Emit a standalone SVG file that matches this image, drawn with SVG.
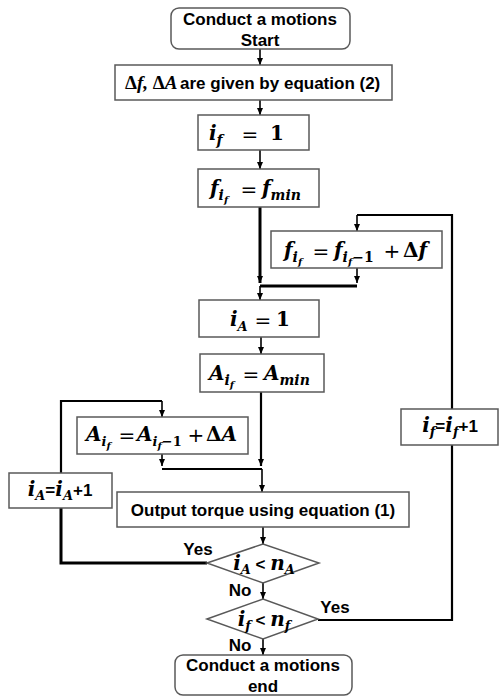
<svg xmlns="http://www.w3.org/2000/svg" width="499" height="696" viewBox="0 0 499 696">
<defs>
<marker id="ah" markerUnits="userSpaceOnUse" markerWidth="8" markerHeight="8" refX="7" refY="3" orient="auto">
<path d="M0,0 L7,3 L0,6 z" fill="#000"/>
</marker>
<style>
.b{fill:#fff;stroke:#595959;stroke-width:1.5}
.c{fill:none;stroke:#000;stroke-width:1.6}
.k{fill:none;stroke:#000;stroke-width:3}
.w{fill:none;stroke:#000;stroke-width:2.2}
.l{font-family:"Liberation Sans",Arial,sans-serif;font-weight:bold;font-size:17px;fill:#000}
.m{font-family:"DejaVu Serif","Liberation Serif",serif;font-weight:bold;font-style:italic;font-size:20px;fill:#000}
.op{font-family:"DejaVu Sans","Liberation Sans",sans-serif;font-weight:normal;font-size:20px;fill:#000;text-anchor:middle}
.u{font-style:normal}
.s1{font-size:14px}
.s2{font-size:10px}
</style>
</defs>
<rect width="499" height="696" fill="#fff"/>

<g id="connectors">
<line class="c" x1="260" y1="49" x2="260" y2="65" marker-end="url(#ah)"/>
<line class="c" x1="260" y1="100" x2="260" y2="115" marker-end="url(#ah)"/>
<line class="c" x1="260" y1="150" x2="260" y2="169" marker-end="url(#ah)"/>
<line class="k" x1="260" y1="207" x2="260" y2="283" marker-end="url(#ah)"/>
<line class="c" x1="357" y1="268" x2="357" y2="283" marker-end="url(#ah)"/>
<polyline class="k" points="260,286 357,286"/>
<line class="c" x1="260" y1="286" x2="260" y2="300" marker-end="url(#ah)"/>
<polyline class="w" points="452,409 452,215 357,215"/>
<line class="c" x1="357" y1="215" x2="357" y2="231" marker-end="url(#ah)"/>
<line class="c" x1="261" y1="337" x2="261" y2="354" marker-end="url(#ah)"/>
<line class="w" x1="261" y1="392" x2="261" y2="466" marker-end="url(#ah)"/>
<line class="c" x1="162" y1="454" x2="162" y2="466" marker-end="url(#ah)"/>
<polyline class="w" points="162,469 262,469"/>
<line class="c" x1="262" y1="469" x2="262" y2="492" marker-end="url(#ah)"/>
<polyline class="w" points="61,473 61,401 162,401"/>
<line class="c" x1="162" y1="401" x2="162" y2="417" marker-end="url(#ah)"/>
<polyline class="k" points="61,508 61,563 207,563"/>
<line class="c" x1="263" y1="527" x2="263" y2="544" marker-end="url(#ah)"/>
<line class="c" x1="263" y1="583" x2="263" y2="599" marker-end="url(#ah)"/>
<polyline class="w" points="318,620 452,620 452,445"/>
<line class="c" x1="263" y1="639" x2="263" y2="655" marker-end="url(#ah)"/>
</g>

<g id="start">
<rect class="b" x="171" y="8" width="179" height="41" rx="8"/>
<text class="l" x="260" y="25" text-anchor="middle">Conduct a motions</text>
<text class="l" x="260" y="46" text-anchor="middle">Start</text>
</g>

<g id="deltas">
<rect class="b" x="115" y="65" width="277" height="35"/>
<text class="m" x="125" y="89" style="font-family:'Liberation Serif',serif;font-size:19px"><tspan class="u">Δ</tspan>f, <tspan class="u">Δ</tspan>A</text>
<text class="l" x="180" y="89">are given by equation (2)</text>
</g>

<g id="if1">
<rect class="b" x="198" y="115" width="111" height="35"/>
<text class="m" y="140"><tspan x="209">i</tspan><tspan class="s1" dy="5">f</tspan></text>
<text class="op" x="250" y="141" font-size="22">=</text>
<text class="m u" x="270" y="140">1</text>
</g>

<g id="fmin">
<rect class="b" x="198" y="169" width="121" height="38"/>
<text class="m" y="195"><tspan x="210">f</tspan><tspan class="s1" dy="5">i</tspan><tspan class="s2" dy="3">f</tspan></text>
<text class="op" x="249" y="196">=</text>
<text class="m" y="195"><tspan x="262">f</tspan><tspan class="s1" dy="5">min</tspan></text>
</g>

<g id="fnext">
<rect class="b" x="271" y="231" width="171" height="37"/>
<text class="m" y="257"><tspan x="284">f</tspan><tspan class="s1" dy="5">i</tspan><tspan class="s2" dy="3">f</tspan></text>
<text class="op" x="321" y="258">=</text>
<text class="m" y="257"><tspan x="334">f</tspan><tspan class="s1" dy="5">i</tspan><tspan class="s2" dy="3">f</tspan><tspan class="s1 u" dy="-3">−1</tspan></text>
<text class="op" x="392" y="258">+</text>
<text class="m" x="403" y="257"><tspan class="u">Δ</tspan>f</text>
</g>

<g id="iA1">
<rect class="b" x="199" y="300" width="120" height="37"/>
<text class="m" y="326" font-size="18"><tspan x="230">i</tspan><tspan dy="5" font-size="13">A</tspan></text>
<text class="op" x="263" y="327">=</text>
<text class="m u" x="276" y="326" font-size="18">1</text>
</g>

<g id="Amin">
<rect class="b" x="200" y="354" width="124" height="38"/>
<text class="m" y="380"><tspan x="209">A</tspan><tspan class="s1" dy="5">i</tspan><tspan class="s2" dy="3">f</tspan></text>
<text class="op" x="251" y="381">=</text>
<text class="m" y="380"><tspan x="264">A</tspan><tspan class="s1" dy="5">min</tspan></text>
</g>

<g id="Anext">
<rect class="b" x="77" y="417" width="171" height="37"/>
<text class="m" y="441" font-size="18"><tspan x="86">A</tspan><tspan dy="5" font-size="13">i</tspan><tspan class="s2" dy="3">f</tspan></text>
<text class="op" x="127" y="442" font-size="18">=</text>
<text class="m" y="441" font-size="18"><tspan x="137">A</tspan><tspan dy="5" font-size="13">i</tspan><tspan class="s2" dy="3">f</tspan><tspan class="u" dy="-3" font-size="13">−1</tspan></text>
<text class="op" x="196" y="442" font-size="18">+</text>
<text class="m" x="206" y="441" font-size="18"><tspan class="u">Δ</tspan>A</text>
</g>

<g id="iAinc">
<rect class="b" x="9" y="473" width="103" height="35"/>
<text x="60" y="496" text-anchor="middle"><tspan class="m" font-size="19">i<tspan dy="4" font-size="13">A</tspan></tspan><tspan class="l" dy="-4">=</tspan><tspan class="m" font-size="19">i<tspan dy="4" font-size="13">A</tspan></tspan><tspan class="l" dy="-4">+1</tspan></text>
</g>

<g id="ifinc">
<rect class="b" x="401" y="409" width="97" height="36"/>
<text x="450" y="432" text-anchor="middle"><tspan class="m" font-size="19">i<tspan dy="4" font-size="13">f</tspan></tspan><tspan class="l" dy="-4">=</tspan><tspan class="m" font-size="19">i<tspan dy="4" font-size="13">f</tspan></tspan><tspan class="l" dy="-4">+1</tspan></text>
</g>

<g id="output">
<rect class="b" x="117" y="492" width="292" height="35"/>
<text class="l" x="263" y="516" text-anchor="middle">Output torque using equation (1)</text>
</g>

<g id="condA">
<polygon class="b" points="207,563 263,544 319,563 263,583"/>
<text x="264" y="570" text-anchor="middle"><tspan class="m">i<tspan dy="4" font-size="13">A</tspan></tspan><tspan class="l" dy="-4"> &lt; </tspan><tspan class="m">n<tspan dy="4" font-size="13">A</tspan></tspan></text>
<text class="l" x="198" y="555" text-anchor="middle" font-size="15">Yes</text>
<text class="l" x="240" y="596" text-anchor="middle" font-size="15">No</text>
</g>

<g id="condF">
<polygon class="b" points="207,619 263,599 318,619 263,639"/>
<text x="264" y="626" text-anchor="middle"><tspan class="m">i<tspan dy="4" font-size="13">f</tspan></tspan><tspan class="l" dy="-4"> &lt; </tspan><tspan class="m">n<tspan dy="4" font-size="13">f</tspan></tspan></text>
<text class="l" x="335" y="613" text-anchor="middle" font-size="15">Yes</text>
<text class="l" x="240" y="651" text-anchor="middle" font-size="15">No</text>
</g>

<g id="end">
<rect class="b" x="175" y="655" width="177" height="40" rx="8"/>
<text class="l" x="263" y="671" text-anchor="middle">Conduct a motions</text>
<text class="l" x="263" y="692" text-anchor="middle">end</text>
</g>
</svg>
